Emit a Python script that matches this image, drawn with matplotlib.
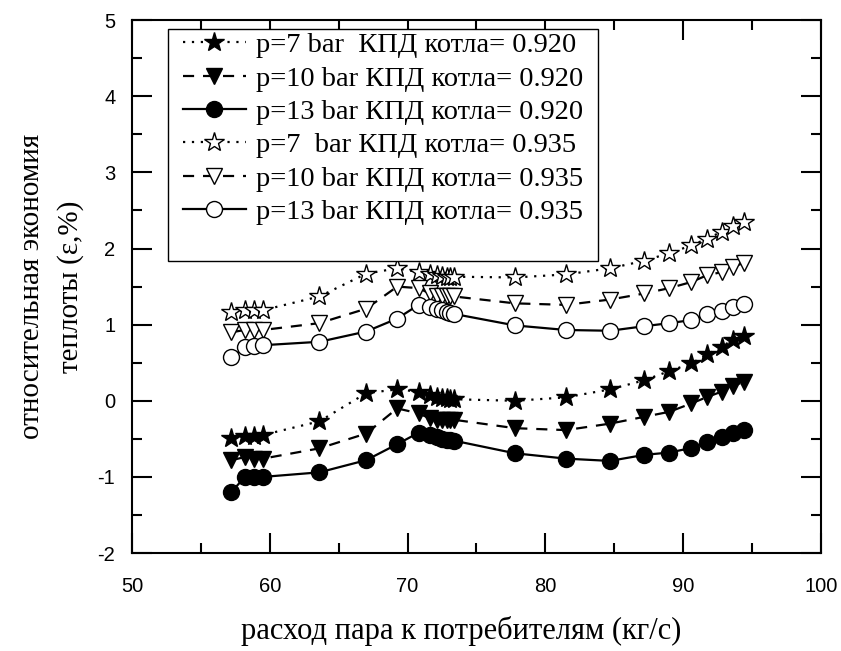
import matplotlib
matplotlib.use("Agg")
import matplotlib.pyplot as plt
from matplotlib.ticker import MultipleLocator
from matplotlib.patches import Rectangle

plt.rcParams["axes.unicode_minus"] = False

# steam flow to consumers (kg/s)
flow = [57.2, 58.2, 58.85, 59.5, 63.6, 67.0, 69.25, 70.8, 71.6, 72.15, 72.5,
        72.85, 73.1, 73.4, 77.8, 81.5, 84.7, 87.2, 89.0, 90.6, 91.75, 92.8,
        93.6, 94.4]

# boiler efficiency 0.920
p7_920 = [-0.49, -0.46, -0.46, -0.45, -0.27, 0.10, 0.15, 0.12, 0.075, 0.05,
          0.04, 0.03, 0.02, 0.02, 0.0, 0.045, 0.15, 0.27, 0.39, 0.49, 0.61,
          0.71, 0.80, 0.85]
p10_920 = [-0.78, -0.74, -0.76, -0.76, -0.625, -0.43, -0.10, -0.165, -0.23,
           -0.25, -0.25, -0.25, -0.25, -0.25, -0.36, -0.385, -0.30, -0.21,
           -0.145, -0.035, 0.05, 0.12, 0.19, 0.25]
p13_920 = [-1.20, -1.0, -1.0, -1.0, -0.94, -0.78, -0.57, -0.42, -0.45, -0.48,
           -0.50, -0.51, -0.52, -0.525, -0.69, -0.76, -0.79, -0.71, -0.68,
           -0.62, -0.54, -0.47, -0.42, -0.38]

# boiler efficiency 0.935
p7_935 = [1.17, 1.19, 1.19, 1.19, 1.37, 1.67, 1.74, 1.69, 1.67, 1.65, 1.64,
          1.63, 1.63, 1.63, 1.62, 1.66, 1.74, 1.84, 1.94, 2.04, 2.13, 2.22,
          2.29, 2.35]
p10_935 = [0.90, 0.93, 0.93, 0.93, 1.02, 1.21, 1.50, 1.48, 1.41, 1.38, 1.37,
           1.37, 1.37, 1.37, 1.28, 1.26, 1.33, 1.41, 1.48, 1.56, 1.65, 1.69,
           1.76, 1.81]
p13_935 = [0.57, 0.70, 0.72, 0.73, 0.775, 0.91, 1.08, 1.26, 1.23, 1.21, 1.19,
           1.17, 1.15, 1.14, 0.99, 0.93, 0.92, 0.98, 1.02, 1.06, 1.14, 1.18,
           1.23, 1.27]

labels = ["p=7 bar  КПД котла= 0.920",
          "p=10 bar КПД котла= 0.920",
          "p=13 bar КПД котла= 0.920",
          "p=7  bar КПД котла= 0.935",
          "p=10 bar КПД котла= 0.935",
          "p=13 bar КПД котла= 0.935"]

serif = ["Liberation Serif", "DejaVu Serif"]
sans = ["Liberation Sans", "DejaVu Sans"]

fig = plt.figure(figsize=(8.41, 6.51), dpi=100)
ax = fig.add_axes([0.157, 0.1505, 0.819, 0.8185])

dot = (0, (1, 3))
dash = (0, (5, 4))
series = [
    (p7_920, "*", dot, "black", 15),
    (p10_920, "v", dash, "black", 12),
    (p13_920, "o", "-", "black", 11.5),
    (p7_935, "*", dot, "white", 15),
    (p10_935, "v", dash, "white", 12),
    (p13_935, "o", "-", "white", 11.5),
]
for (ys, m, ls, fc, ms), lab in zip(series, labels):
    ax.plot(flow, ys, linestyle=ls, color="black", linewidth=1.6,
            marker=m, markersize=ms, markerfacecolor=fc,
            markeredgecolor="black", markeredgewidth=1.0, label=lab)

ax.set_xlim(50, 100)
ax.set_ylim(-2, 5)
ax.xaxis.set_major_locator(MultipleLocator(10))
ax.xaxis.set_minor_locator(MultipleLocator(5))
ax.yaxis.set_major_locator(MultipleLocator(1))
ax.yaxis.set_minor_locator(MultipleLocator(0.5))
ax.tick_params(which="both", direction="in", top=True, right=True, width=1.5)
ax.tick_params(which="major", length=14.5)
ax.tick_params(which="minor", length=7)
ax.tick_params(axis="x", which="major", pad=17)
ax.tick_params(axis="y", which="major", pad=12)
for s in ax.spines.values():
    s.set_linewidth(1.5)
for t in ax.get_xticklabels() + ax.get_yticklabels():
    t.set_family(sans)
    t.set_fontsize(14.5)

ax.set_xlabel("расход пара к потребителям (кг/с)", family=serif, fontsize=22)
ax.xaxis.set_label_coords(0.478, -0.118)
ax.set_ylabel("относительная экономия\nтеплоты (ε,%)", family=serif,
              fontsize=21, labelpad=10, linespacing=1.55)

# legend box
box = Rectangle((0.0522, 0.548), 0.6238, 0.435, transform=ax.transAxes,
                facecolor="white", edgecolor="black", linewidth=1.0,
                zorder=4)
ax.add_patch(box)

leg = ax.legend(loc="upper left", bbox_to_anchor=(0.068, 0.985),
                prop={"family": serif, "size": 20.5}, frameon=False,
                handlelength=2.2, handletextpad=0.35, labelspacing=0.26,
                borderpad=0.15, borderaxespad=0)
leg.set_zorder(5)

fig.savefig("out.png", dpi=100)
